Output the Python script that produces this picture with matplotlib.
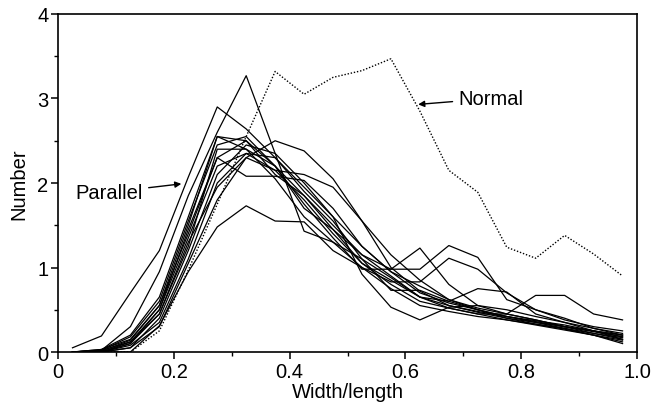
import numpy as np
import matplotlib
matplotlib.use("Agg")
import matplotlib.pyplot as plt
from matplotlib.ticker import MultipleLocator

plt.rcParams['font.family'] = ['Liberation Sans', 'DejaVu Sans']

# ========== DATA ==========
# bin centres of width/length
width_length = [0.025, 0.075, 0.125, 0.175, 0.225, 0.275, 0.325, 0.375, 0.425, 0.475,
                0.525, 0.575, 0.625, 0.675, 0.725, 0.775, 0.825, 0.875, 0.925, 0.975]

# fibres grown parallel (one curve per sample)
parallel_01 = [0.05, 0.19, 0.70, 1.20, 2.07, 2.90, 2.64, 2.30, 1.95, 1.60, 1.25, 0.95, 0.78, 0.62, 0.52, 0.45, 0.38, 0.30, 0.25, 0.18]
parallel_02 = [0.00, 0.02, 0.30, 0.95, 1.85, 2.60, 3.27, 2.35, 1.43, 1.30, 1.10, 0.88, 0.65, 0.55, 0.48, 0.42, 0.37, 0.32, 0.25, 0.20]
parallel_03 = [0.00, 0.00, 0.00, 0.31, 0.95, 1.48, 1.73, 1.55, 1.54, 1.20, 1.00, 0.75, 0.55, 0.48, 0.42, 0.38, 0.33, 0.28, 0.22, 0.17]
parallel_04 = [0.00, 0.03, 0.15, 0.55, 1.40, 2.30, 2.08, 2.08, 2.03, 1.70, 1.25, 0.95, 0.70, 0.58, 0.50, 0.42, 0.36, 0.30, 0.24, 0.18]
parallel_05 = [0.00, 0.00, 0.12, 0.45, 1.30, 1.95, 2.30, 2.50, 2.38, 2.05, 1.55, 1.00, 0.72, 0.55, 0.47, 0.40, 0.35, 0.30, 0.25, 0.20]
parallel_06 = [0.00, 0.02, 0.18, 0.60, 1.55, 2.45, 2.55, 2.20, 1.75, 1.35, 0.98, 0.98, 1.23, 0.80, 0.55, 0.45, 0.38, 0.30, 0.22, 0.15]
parallel_07 = [0.00, 0.00, 0.10, 0.50, 1.45, 2.30, 2.50, 2.10, 1.85, 1.50, 1.15, 0.98, 0.98, 1.26, 1.12, 0.62, 0.50, 0.40, 0.28, 0.22]
parallel_08 = [0.00, 0.01, 0.14, 0.55, 1.50, 2.55, 2.40, 2.05, 1.60, 1.30, 1.00, 0.83, 0.83, 1.11, 0.98, 0.70, 0.50, 0.38, 0.30, 0.25]
parallel_09 = [0.00, 0.00, 0.05, 0.40, 1.20, 2.10, 2.45, 2.35, 2.00, 1.60, 0.92, 0.53, 0.38, 0.53, 0.55, 0.50, 0.42, 0.35, 0.28, 0.20]
parallel_10 = [0.00, 0.02, 0.12, 0.50, 1.35, 2.20, 2.35, 2.15, 1.80, 1.40, 1.05, 0.80, 0.60, 0.52, 0.45, 0.45, 0.67, 0.67, 0.45, 0.38]
parallel_11 = [0.00, 0.00, 0.08, 0.35, 1.10, 2.00, 2.35, 2.30, 1.90, 1.55, 1.10, 0.73, 0.73, 0.60, 0.50, 0.42, 0.35, 0.28, 0.20, 0.12]
parallel_12 = [0.00, 0.00, 0.10, 0.45, 1.25, 2.40, 2.40, 2.20, 1.85, 1.45, 1.05, 0.85, 0.65, 0.60, 0.75, 0.71, 0.45, 0.35, 0.25, 0.15]
parallel_13 = [0.00, 0.00, 0.05, 0.30, 1.05, 1.80, 2.30, 2.15, 2.10, 1.95, 1.55, 1.15, 0.85, 0.62, 0.50, 0.40, 0.33, 0.27, 0.20, 0.14]
parallel_14 = [0.00, 0.03, 0.20, 0.65, 1.60, 2.55, 2.50, 2.20, 1.70, 1.45, 1.15, 0.90, 0.65, 0.52, 0.45, 0.38, 0.32, 0.26, 0.20, 0.10]

parallel_curves = [parallel_01, parallel_02, parallel_03, parallel_04, parallel_05,
                   parallel_06, parallel_07, parallel_08, parallel_09, parallel_10,
                   parallel_11, parallel_12, parallel_13, parallel_14]

# fibres grown normal
normal = [0.00, 0.00, 0.00, 0.25, 0.97, 1.75, 2.55, 3.32, 3.05, 3.25,
          3.33, 3.47, 2.85, 2.15, 1.89, 1.24, 1.11, 1.38, 1.16, 0.90]

# ========== PLOT ==========
fig = plt.figure(figsize=(6.57, 4.14), dpi=100)
ax = fig.add_axes([0.0883, 0.1473, 0.8813, 0.8165])

for curve in parallel_curves:
    ax.plot(width_length, curve, color='black', lw=0.9)

ax.plot(width_length, normal, color='black', lw=1.0, ls=(0, (1, 1.3)))

ax.set_xlim(0, 1.0)
ax.set_ylim(0, 4)
ax.xaxis.set_major_locator(MultipleLocator(0.2))
ax.xaxis.set_minor_locator(MultipleLocator(0.1))
ax.yaxis.set_major_locator(MultipleLocator(1))
ax.yaxis.set_minor_locator(MultipleLocator(0.5))
ax.set_xticks([0, 0.2, 0.4, 0.6, 0.8, 1.0])
ax.set_xticklabels(['0', '0.2', '0.4', '0.6', '0.8', '1.0'])

ax.tick_params(which='major', direction='out', length=5, width=1.1, labelsize=14.5, pad=2)
ax.tick_params(which='minor', direction='out', length=3, width=1.0)
for s in ax.spines.values():
    s.set_linewidth(1.2)

ax.set_xlabel('Width/length', fontsize=14.5, labelpad=1)
ax.set_ylabel('Number', fontsize=14.5, labelpad=6)

# labels with arrows
ax.annotate('Normal', xy=(0.622, 2.93), xytext=(0.691, 3.0), fontsize=14.5,
            va='center', ha='left',
            arrowprops=dict(arrowstyle='-|>', color='black', lw=1.0,
                            mutation_scale=9, shrinkA=2, shrinkB=0))
ax.annotate('Parallel', xy=(0.213, 1.99), xytext=(0.147, 1.89), fontsize=14.5,
            va='center', ha='right',
            arrowprops=dict(arrowstyle='-|>', color='black', lw=1.0,
                            mutation_scale=9, shrinkA=2, shrinkB=0))

fig.savefig('out.png', dpi=100)
